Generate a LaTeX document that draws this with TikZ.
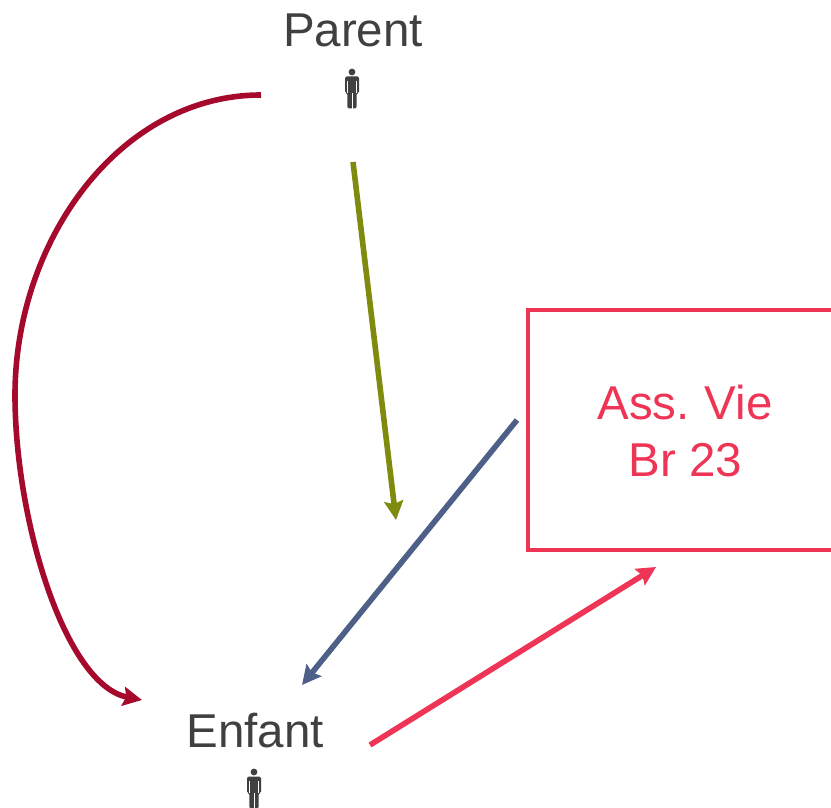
\documentclass[tikz,border=0pt]{standalone}
\usepackage{fontspec}
\setmainfont{Liberation Sans}
\usetikzlibrary{arrows.meta}
\definecolor{txt}{HTML}{404040}
\definecolor{crim}{HTML}{A50A2D}
\definecolor{oliv}{HTML}{7F8A0F}
\definecolor{slat}{HTML}{4F6088}
\definecolor{pink}{HTML}{EE3555}
\tikzset{
  label text/.style={font=\fontsize{47.5}{58}\selectfont, text=txt, inner sep=0pt, anchor=base},
  conn/.style={line width=5.6pt, -{Stealth[length=19pt,width=19pt,inset=3pt]}},
  pict/.pic={
    \fill[txt] (0,-17) circle (3.4);
    \fill[txt,rounded corners=1.5pt] (-7,-12.5) -- (7,-12.5) -- (7,4) -- (4.6,4) -- (4.6,19.5) -- (-4.6,19.5) -- (-4.6,4) -- (-7,4) -- cycle;
    \draw[white,line width=.6pt] (0,4) -- (0,20) (-4.6,-8) -- (-4.6,4) (4.6,-8) -- (4.6,4);
  }
}
\begin{document}
\begin{tikzpicture}[x=1pt,y=-1pt]
\useasboundingbox (0,0) rectangle (831,808);
\clip (0,0) rectangle (831,808);
\node[label text] (parent) at (353,47) {Parent};
\node[label text] (enfant) at (255,747) {Enfant};
\node[draw=pink, line width=4.4pt, minimum width=308pt, minimum height=239.5pt, inner sep=0pt, anchor=north west] (box) at (526,308) {};
\node[label text, text=pink] (l1) at (685,419) {\spaceskip=10.6pt Ass. Vie};
\node[label text, text=pink] (l2) at (685.5,476.5) {Br 23};
\pic at (352,89) {pict};
\pic at (254,789) {pict};
\coordinate (a1) at (261,95);
\coordinate (a2) at (142,700);
\coordinate (b1) at (353,162);
\coordinate (b2) at (396,520);
\coordinate (c1) at (517,420);
\coordinate (c2) at (302,685);
\coordinate (d1) at (370,745);
\coordinate (d2) at (656,567);
\draw[conn,crim] (a1) .. controls (120,95) and (15,240) .. (15,395) .. controls (15,520) and (65,685) .. (a2);
\draw[conn,oliv] (b1) -- (b2);
\draw[conn,slat] (c1) -- (c2);
\draw[conn,pink] (d1) -- (d2);
\end{tikzpicture}
\end{document}
